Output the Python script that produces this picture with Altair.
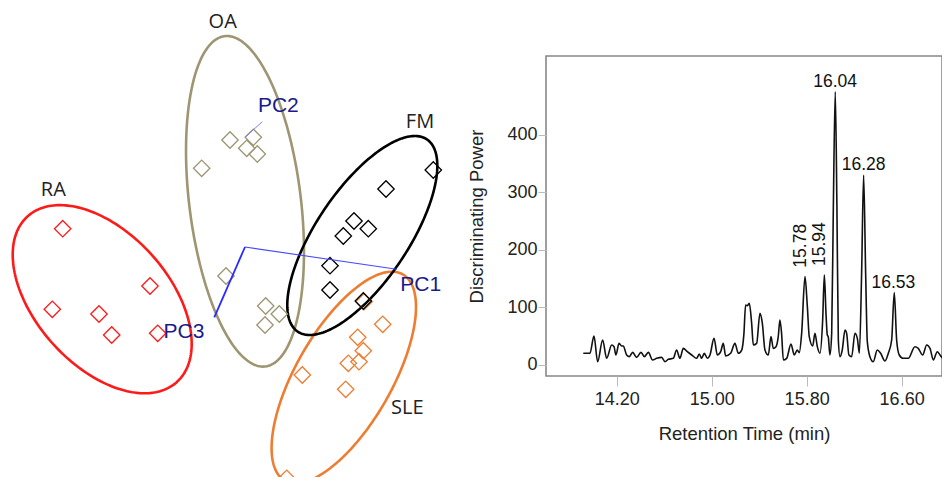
import altair as alt
import pandas as pd

# ---------------- Right panel: discriminating power trace ----------------
rt = [13.919, 13.975, 14.009, 14.040, 14.082, 14.116, 14.158, 14.178, 14.194, 14.220,
      14.242, 14.256, 14.284, 14.307, 14.335, 14.368, 14.405, 14.433, 14.467, 14.503,
      14.537, 14.579, 14.607, 14.635, 14.677, 14.705, 14.733, 14.761, 14.795, 14.832,
      14.874, 14.896, 14.916, 14.938, 14.964, 14.986, 15.020, 15.048, 15.076, 15.098,
      15.118, 15.160, 15.196, 15.225, 15.253, 15.272, 15.286, 15.300, 15.317, 15.337,
      15.351, 15.379, 15.407, 15.427, 15.449, 15.477, 15.500, 15.519, 15.542, 15.561,
      15.575, 15.589, 15.604, 15.632, 15.668, 15.696, 15.721, 15.738, 15.758, 15.786,
      15.806, 15.822, 15.851, 15.870, 15.890, 15.912, 15.935, 15.949, 15.963, 15.974,
      15.982, 15.996, 16.011, 16.025, 16.041, 16.055, 16.067, 16.081, 16.100, 16.123,
      16.137, 16.156, 16.179, 16.207, 16.227, 16.244, 16.263, 16.280, 16.297, 16.311,
      16.333, 16.361, 16.395, 16.423, 16.460, 16.488, 16.516, 16.538, 16.558, 16.580,
      16.614, 16.656, 16.712, 16.740, 16.777, 16.811, 16.839, 16.867, 16.900, 16.923,
      16.956]
power = [20.3, 20.3, 50.3, 5.8, 43.4, 11.6, 34.7, 31.8, 17.4, 37.6,
         33.0, 33.0, 17.4, 14.5, 22.0, 13.3, 22.0, 14.5, 22.0, 8.7,
         11.6, 13.3, 5.8, 9.8, 11.6, 26.0, 11.6, 28.9, 23.1, 17.4,
         11.6, 19.1, 11.6, 20.3, 11.6, 17.4, 46.3, 17.4, 23.1, 37.6,
         15.6, 20.3, 37.6, 20.3, 26.0, 55.0, 104.2, 103.0, 107.1, 72.3,
         34.7, 37.6, 89.7, 72.3, 26.0, 17.4, 49.2, 28.9, 31.8, 49.2,
         78.1, 55.0, 8.7, 11.6, 36.5, 17.4, 26.0, 21.4, 55.0, 153.4,
         101.3, 49.2, 33.0, 55.0, 31.8, 20.3, 78.1, 156.3, 89.7, 52.1,
         49.2, 17.4, 55.0, 274.9, 474.5, 274.9, 43.4, 14.5, 26.0, 60.8,
         55.0, 17.4, 14.5, 55.0, 46.3, 20.3, 159.1, 329.9, 159.1, 40.5,
         14.5, 5.8, 26.0, 20.3, 6.9, 20.3, 43.4, 125.6, 43.4, 17.4,
         11.6, 11.6, 31.8, 28.9, 17.4, 34.7, 28.9, 8.7, 23.1, 17.4,
         8.7]

peak_h_rt = [16.04, 16.28, 16.53]
peak_h_val = [474.5, 329.9, 125.6]
peak_v_rt = [15.78, 15.94]
peak_v_val = [153.4, 156.3]

x_ticks = [14.2, 15.0, 15.8, 16.6]
y_ticks = [0, 100, 200, 300, 400]

# ---------------- Left panel: PCA scores ----------------
groups = ["RA", "OA", "SLE", "FM"]
group_colors = ["#ff1a1a", "#9e9672", "#ed7d31", "#000000"]

score_group = (["RA"] * 6 + ["OA"] * 9 + ["SLE"] * 9 + ["FM"] * 8)
score_x = [-18.23, -9.50, -19.27, -14.60, -13.33, -8.73,
           -1.50, 0.83, 0.17, 1.23, -4.33, -1.90, 2.07, 3.43, 2.00,
           13.77, 11.27, 11.83, 10.33, 11.40, 5.73, 10.07, 4.17, 11.90,
           18.83, 14.10, 10.90, 12.33, 9.83, 8.50, 8.50, 11.83]
score_y = [1.83, -3.90, -6.23, -6.70, -8.80, -8.63,
           10.70, 10.97, 9.87, 9.30, 7.87, -2.90, -5.90, -6.70, -7.80,
           -7.73, -9.03, -10.37, -11.63, -11.47, -12.80, -14.23, -23.13, -5.47,
           7.70, 5.80, 2.60, 1.83, 1.10, -1.87, -4.30, -5.40]

ell_group = ["RA", "OA", "SLE", "FM"]
ell_cx = [-14.28, 0.00, 9.88, 11.73]
ell_cy = [-5.22, 4.57, -13.05, 1.15]
ell_a = [11.15, 16.64, 11.88, 11.58]
ell_b = [6.65, 5.58, 4.79, 4.60]
ell_phi = [-48.0, -83.0, 60.2, 56.1]

label_text = ["RA", "OA", "SLE", "FM"]
label_x = [-19.17, -2.23, 16.23, 17.50]
label_y = [5.70, 22.53, -16.13, 12.47]

pc_names = ["PC1", "PC2", "PC3"]
pc_label_x = [17.57, 3.33, -6.10]
pc_label_y = [-3.80, 14.10, -8.53]
pc1_seg = ([0.0, 15.17], [0.0, -2.23])
pc2_seg = ([0.07, 1.73], [11.03, 12.53])
pc3_seg = ([0.0, -3.07], [0.0, -7.03])

# ---------------- Build right chart ----------------
FONT = "Liberation Sans"
xs_r = alt.Scale(domain=[13.605, 16.940], nice=False, zero=False)
ys_r = alt.Scale(domain=[-19.1, 536.5], nice=False, zero=False)

trace_df = pd.DataFrame({"rt": rt, "power": power})
trace = alt.Chart(trace_df).mark_line(
    color="#111111", strokeWidth=1.6, interpolate="monotone", clip=True
).encode(
    x=alt.X("rt:Q", scale=xs_r, axis=alt.Axis(
        orient="bottom", values=x_ticks, format=".2f", title="Retention Time (min)",
        domain=False, grid=False, tickColor="#bbbbbb", tickSize=10, labelPadding=4,
        labelFont=FONT, labelFontSize=18, labelColor="#222222",
        titleFont=FONT, titleFontSize=18.5, titleFontWeight="normal", titleColor="#222222",
        titlePadding=16)),
    y=alt.Y("power:Q", scale=ys_r, axis=alt.Axis(
        orient="left", values=y_ticks, title="Discriminating Power",
        domain=False, grid=False, tickColor="#bbbbbb", tickSize=8, labelPadding=1,
        labelFont=FONT, labelFontSize=18, labelColor="#222222",
        titleFont=FONT, titleFontSize=18.5, titleFontWeight="normal", titleColor="#222222",
        titlePadding=20)),
)

ph_df = pd.DataFrame({"rt": peak_h_rt, "val": peak_h_val,
                      "lab": [f"{v:.2f}" for v in peak_h_rt]})
peak_h = alt.Chart(ph_df).mark_text(
    font=FONT, fontSize=17.5, color="#111111", baseline="alphabetic", align="center", dy=-5
).encode(x=alt.X("rt:Q", scale=xs_r), y=alt.Y("val:Q", scale=ys_r), text="lab:N")

pv_df = pd.DataFrame({"rt": peak_v_rt, "val": peak_v_val,
                      "lab": [f"{v:.2f}" for v in peak_v_rt]})
peak_v = alt.Chart(pv_df).mark_text(
    font=FONT, fontSize=17.5, color="#111111", baseline="middle", align="left",
    angle=270, dx=9, dy=-3
).encode(x=alt.X("rt:Q", scale=xs_r), y=alt.Y("val:Q", scale=ys_r), text="lab:N")

right = alt.layer(trace, peak_h, peak_v)

# ---------------- Build left chart ----------------
xs_l = alt.Scale(domain=[30.1, 69.7], nice=False, zero=False)
ys_l = alt.Scale(domain=[-12.9, 19.1], nice=False, zero=False)
cs = alt.Scale(domain=groups, range=group_colors)

ell_df = pd.DataFrame({"group": ell_group, "cx": ell_cx, "cy": ell_cy,
                       "a": ell_a, "b": ell_b, "phi": ell_phi})
ellipses = alt.Chart(ell_df).transform_calculate(
    t="sequence(0, 6.29, 0.03)"
).transform_flatten(["t"]).transform_calculate(
    ex="datum.cx + datum.a*cos(datum.t)*cos(datum.phi*PI/180) - datum.b*sin(datum.t)*sin(datum.phi*PI/180)"
).transform_calculate(
    ey="datum.cy + datum.a*cos(datum.t)*sin(datum.phi*PI/180) + datum.b*sin(datum.t)*cos(datum.phi*PI/180)"
).mark_line(strokeWidth=2.6, interpolate="linear-closed").encode(
    x=alt.X("ex:Q", scale=xs_l, axis=None),
    y=alt.Y("ey:Q", scale=ys_l, axis=None),
    color=alt.Color("group:N", scale=cs, legend=None),
    detail="group:N",
    order="t:Q",
)

sc_df = pd.DataFrame({"group": score_group, "sx": score_x, "sy": score_y})
points = alt.Chart(sc_df).mark_point(
    shape="diamond", filled=False, size=270, strokeWidth=1.3, opacity=1
).encode(
    x=alt.X("sx:Q", scale=xs_l, axis=None),
    y=alt.Y("sy:Q", scale=ys_l, axis=None),
    color=alt.Color("group:N", scale=cs, legend=None),
)


def seg(xy, color, width):
    d = pd.DataFrame({"x": [xy[0][0]], "y": [xy[1][0]], "x2": [xy[0][1]], "y2": [xy[1][1]]})
    return alt.Chart(d).mark_rule(color=color, strokeWidth=width).encode(
        x=alt.X("x:Q", scale=xs_l, axis=None), y=alt.Y("y:Q", scale=ys_l, axis=None),
        x2="x2:Q", y2="y2:Q")


pc1 = seg(pc1_seg, "#4a4aff", 1.1)
pc2 = seg(pc2_seg, "#7a7aff", 1.0)
pc3 = seg(pc3_seg, "#2a2aff", 1.8)

lab_df = pd.DataFrame({"t": label_text, "x": label_x, "y": label_y})
grp_labels = alt.Chart(lab_df).mark_text(
    font="Open Sans", fontSize=20, color="#222222", baseline="middle", align="center"
).encode(x=alt.X("x:Q", scale=xs_l, axis=None), y=alt.Y("y:Q", scale=ys_l, axis=None), text="t:N")

pcl_df = pd.DataFrame({"t": pc_names, "x": pc_label_x, "y": pc_label_y})
pc_labels = alt.Chart(pcl_df).mark_text(
    font=FONT, fontSize=21, color="#1a1a8c", baseline="middle", align="center"
).encode(x=alt.X("x:Q", scale=xs_l, axis=None), y=alt.Y("y:Q", scale=ys_l, axis=None), text="t:N")

left = alt.layer(ellipses, points, pc1, pc2, pc3, grp_labels, pc_labels)

chart = alt.layer(right, left).resolve_scale(
    x="independent", y="independent"
).properties(
    width=396, height=320,
    autosize=alt.AutoSizeParams(type="none"),
    padding={"left": 538, "top": 48, "right": 0, "bottom": 101},
).configure_view(stroke="#888888", strokeWidth=1.6)

chart.save("out.html", embed_options={"renderer": "svg", "actions": False})
